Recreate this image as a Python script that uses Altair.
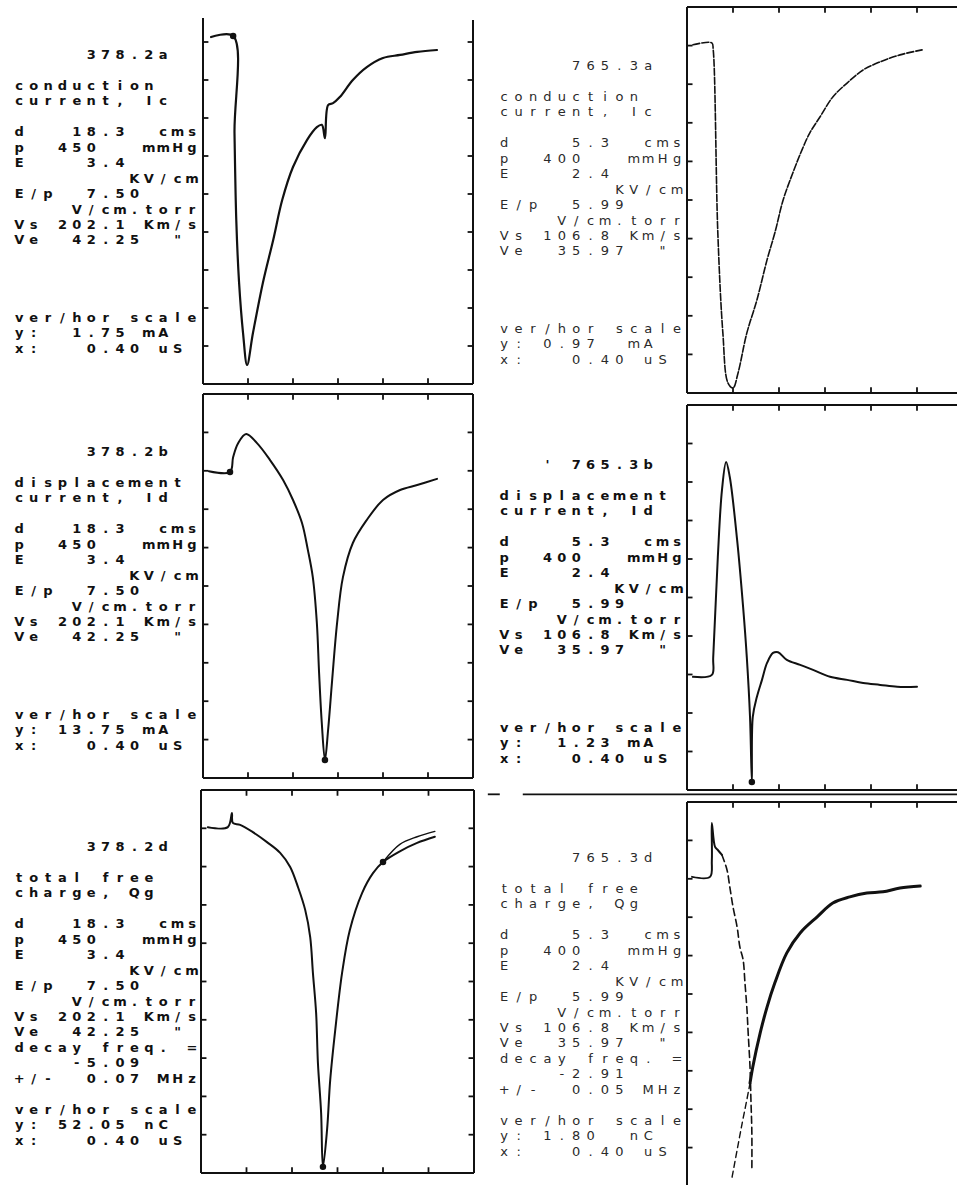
import altair as alt
import pandas as pd

# ---------------------------------------------------------------------------
# Text blocks printed to the left of every oscillogram (one entry per line)
# ---------------------------------------------------------------------------
TEXT_P1 = ["     378.2a", "", "conduction", "current, Ic", "",
           "d   18.3  cms", "p  450   mmHg", "E    3.4", "        KV/cm",
           "E/p  7.50", "    V/cm.torr", "Vs 202.1 Km/s", "Ve  42.25  \"",
           "", "", "", "", "ver/hor scale", "y:  1.75 mA", "x:   0.40 uS"]
TEXT_P2 = ["     765.3a", "", "conduction", "current, Ic", "",
           "d    5.3  cms", "p  400   mmHg", "E    2.4", "        KV/cm",
           "E/p  5.99", "    V/cm.torr", "Vs 106.8 Km/s", "Ve  35.97  \"",
           "", "", "", "", "ver/hor scale", "y: 0.97  mA", "x:   0.40 uS"]
TEXT_P3 = ["     378.2b", "", "displacement", "current, Id", "",
           "d   18.3  cms", "p  450   mmHg", "E    3.4", "        KV/cm",
           "E/p  7.50", "    V/cm.torr", "Vs 202.1 Km/s", "Ve  42.25  \"",
           "", "", "", "", "ver/hor scale", "y: 13.75 mA", "x:   0.40 uS"]
TEXT_P4 = ["   ' 765.3b", "", "displacement", "current, Id", "",
           "d    5.3  cms", "p  400   mmHg", "E    2.4", "        KV/cm",
           "E/p  5.99", "    V/cm.torr", "Vs 106.8 Km/s", "Ve  35.97  \"",
           "", "", "", "", "ver/hor scale", "y:  1.23 mA", "x:   0.40 uS"]
TEXT_P5 = ["     378.2d", "", "total free", "charge, Qg", "",
           "d   18.3  cms", "p  450   mmHg", "E    3.4", "        KV/cm",
           "E/p  7.50", "    V/cm.torr", "Vs 202.1 Km/s", "Ve  42.25  \"",
           "decay freq. =", "    -5.09", "+/-  0.07 MHz", "",
           "ver/hor scale", "y: 52.05 nC", "x:   0.40 uS"]
TEXT_P6 = ["     765.3d", "", "total free", "charge, Qg", "",
           "d    5.3  cms", "p  400   mmHg", "E    2.4", "        KV/cm",
           "E/p  5.99", "    V/cm.torr", "Vs 106.8 Km/s", "Ve  35.97  \"",
           "decay freq. =", "    -2.91", "+/-  0.05 MHz", "",
           "ver/hor scale", "y: 1.80  nC", "x:   0.40 uS"]

# ---------------------------------------------------------------------------
# Traces in screen divisions
# (x: 0..6 divisions of 0.40 us, y: 0..10 vertical divisions)
# ---------------------------------------------------------------------------
P1_X = [0.18, 0.67, 0.70, 0.74, 0.80, 0.89, 0.98, 1.11, 1.33, 1.56, 1.76, 2.0, 2.31,
        2.53, 2.64, 2.71, 2.78, 2.89, 3.04, 3.33, 3.64, 4.0, 4.38, 4.76, 5.2]
P1_Y = [9.13, 9.16, 6.60, 4.30, 2.70, 1.34, 0.50, 1.34, 2.66, 3.79, 4.84, 5.71, 6.42,
        6.76, 6.82, 6.47, 7.34, 7.39, 7.55, 8.0, 8.34, 8.58, 8.66, 8.74, 8.79]

P2_X = [0.13, 0.54, 0.57, 0.67, 0.78, 0.89, 1.0, 1.11, 1.30, 1.52, 1.74, 1.91,
        2.09, 2.30, 2.5, 2.67, 2.89, 3.17, 3.48, 3.83, 4.20, 4.63, 5.11]
P2_Y = [9.02, 9.07, 8.89, 4.15, 1.55, 0.26, 0.13, 0.52, 1.55, 2.41, 3.45, 4.15,
        5.0, 5.70, 6.30, 6.74, 7.15, 7.67, 8.03, 8.37, 8.58, 8.76, 8.89]

P3_X = [0.13, 0.60, 0.67, 0.78, 0.96, 1.2, 1.49, 1.78, 2.0, 2.2, 2.33, 2.44, 2.53,
        2.58, 2.64, 2.71, 2.78, 2.87, 2.98, 3.11, 3.33, 3.64, 4.0, 4.38, 4.76, 5.2]
P3_Y = [7.99, 7.97, 8.36, 8.72, 8.96, 8.72, 8.28, 7.76, 7.24, 6.64, 5.94, 5.23, 4.04,
        2.73, 1.43, 0.47, 1.25, 2.55, 4.04, 5.23, 6.12, 6.72, 7.24, 7.5, 7.63, 7.79]

P4_X = [0.13, 0.54, 0.57, 0.67, 0.76, 0.85, 0.93, 1.09, 1.22, 1.30, 1.37, 1.41, 1.43,
        1.52, 1.63, 1.74, 1.87, 1.98, 2.17, 2.46, 2.74, 3.11, 3.48, 3.83, 4.20, 4.57, 5.0]
P4_Y = [2.94, 2.99, 3.45, 6.05, 7.79, 8.52, 8.13, 6.49, 4.75, 3.45, 1.90, 0.21, 1.90,
        2.42, 2.86, 3.30, 3.56, 3.58, 3.38, 3.25, 3.12, 2.94, 2.86, 2.78, 2.73, 2.68, 2.68]

P5_X = [0.15, 0.59, 0.68, 0.70, 0.86, 1.14, 1.45, 1.74, 1.96, 2.13, 2.29, 2.40, 2.46, 2.53,
        2.57, 2.64, 2.68, 2.77, 2.84, 2.95, 3.10, 3.27, 3.54, 3.78, 4.0, 4.37, 4.75, 5.14]
P5_Y = [9.03, 9.03, 9.40, 9.14, 9.09, 8.90, 8.64, 8.36, 7.99, 7.47, 6.87, 6.16, 5.22, 4.18,
        2.87, 1.57, 0.16, 1.12, 2.43, 3.73, 5.22, 6.34, 7.31, 7.83, 8.12, 8.40, 8.62, 8.78]
P5_FIT_X = [4.0, 4.37, 4.75, 5.14]
P5_FIT_Y = [8.12, 8.58, 8.78, 8.92]

P6_DATA_X = [0.11, 0.50, 0.54, 0.54, 0.61, 0.67, 0.76, 0.87, 0.93, 1.0, 1.09, 1.15,
             1.22, 1.26, 1.30, 1.33, 1.37, 1.39, 1.41, 1.41]
P6_DATA_Y = [8.05, 8.05, 8.49, 9.45, 8.83, 8.75, 8.62, 8.23, 7.79, 7.27, 6.74, 6.22,
             5.89, 5.29, 4.66, 3.98, 3.10, 2.24, 1.38, 0.42]
P6_FIT_X = [0.98, 1.09, 1.20, 1.30, 1.37, 1.43, 1.59, 1.74, 1.91, 2.17, 2.46, 2.83,
            3.17, 3.54, 3.91, 4.26, 4.63, 5.07]
P6_FIT_Y = [0.23, 0.94, 1.64, 2.24, 2.68, 3.10, 3.98, 4.66, 5.29, 6.07, 6.59, 7.01,
            7.37, 7.53, 7.63, 7.66, 7.76, 7.81]

# plotter dots on the traces
DOTS = {
    "P1": ([0.67], [9.16]),
    "P3": ([0.60, 2.71], [7.97, 0.47]),
    "P4": ([1.41], [0.21]),
    "P5": ([2.68, 4.0], [0.16, 8.12]),
}

TICK_X = [1, 2, 3, 4, 5]
TICK_Y = [1, 2, 3, 4, 5, 6, 7, 8, 9]

# ---------------------------------------------------------------------------
# Layout (page pixels): plot box x-left, x-right, y-bottom, y-top
# ---------------------------------------------------------------------------
BOX = {
    "P1": (203, 473, 384, 4),
    "P2": (687, 963, 393, 7),
    "P3": (203, 473, 778, 394),
    "P4": (687, 963, 790, 405),
    "P5": (201, 474, 1173, 790),
    "P6": (687, 963, 1186, 802),
}
# text block: left x of column 0, y of line 0
TEXT_POS = {
    "P1": (12, 55), "P2": (497, 66), "P3": (12, 452),
    "P4": (497, 465), "P5": (12, 847), "P6": (497, 858),
}
TEXT_BOLD = {"P1": True, "P2": False, "P3": True, "P4": True, "P5": True, "P6": False}
COL_W = 14.4
ROW_H = 15.45
FONT_SIZE = 13

# visible frame sides: side -> (from, to) along the side, in divisions
FRAME = {
    "P1": {"left": (0, 9.63), "right": (0, 9.58), "bottom": (0, 6)},
    "P2": {"left": (0, 10), "top": (0, 6), "bottom": (0, 6)},
    "P3": {"left": (0, 10), "right": (0, 10), "top": (0, 6), "bottom": (0, 6)},
    "P4": {"left": (0, 10), "top": (0, 6), "bottom": (0, 6)},
    "P5": {"left": (0, 10), "right": (0, 10), "top": (0, 6), "bottom": (0, 6)},
    "P6": {"left": (0, 10), "top": (0, 6)},
}
TLX, TLY = 0.12, 0.15  # inward tick length in divisions

# stray scan lines between the lower right panels (in P6 divisions)
SCAN_LINES = [(-3.57, 10.2, 6.0, 10.2), (-4.33, 10.2, -4.07, 10.2)]

INK = "#111111"


def xs(p):
    b = BOX[p]
    return alt.Scale(domain=[0, 6], range=[b[0], b[1]], nice=False, zero=False)


def ys(p):
    b = BOX[p]
    return alt.Scale(domain=[0, 10], range=[b[2], b[3]], nice=False, zero=False)


def seg_layer(p, segs, width=2.0, color=INK):
    df = pd.DataFrame(segs, columns=["x", "y", "x2", "y2"])
    return alt.Chart(df).mark_rule(strokeWidth=width, color=color).encode(
        x=alt.X("x:Q", scale=xs(p), axis=None),
        y=alt.Y("y:Q", scale=ys(p), axis=None),
        x2="x2:Q", y2="y2:Q")


def frame_layers(p):
    segs, ticks = [], []
    for side, (a, b) in FRAME[p].items():
        if side == "left":
            segs.append((0, a, 0, b))
            ticks += [(0, k, TLX, k) for k in TICK_Y if a < k < b]
        elif side == "right":
            segs.append((6, a, 6, b))
            ticks += [(6, k, 6 - TLX, k) for k in TICK_Y if a < k < b]
        elif side == "bottom":
            segs.append((a, 0, b, 0))
            ticks += [(k, 0, k, TLY) for k in TICK_X]
        elif side == "top":
            segs.append((a, 10, b, 10))
            ticks += [(k, 10, k, 10 - TLY) for k in TICK_X]
    return [seg_layer(p, segs, 2.0), seg_layer(p, ticks, 1.8)]


def line_layer(p, xv, yv, width=2.0, dash=None):
    df = pd.DataFrame({"x": xv, "y": yv, "i": list(range(len(xv)))})
    kw = dict(strokeWidth=width, color=INK, strokeJoin="round", strokeCap="round",
              interpolate="catmull-rom")
    if dash:
        kw["strokeDash"] = dash
    return alt.Chart(df).mark_line(**kw).encode(
        x=alt.X("x:Q", scale=xs(p), axis=None),
        y=alt.Y("y:Q", scale=ys(p), axis=None),
        order="i:Q")


def dot_layer(p, xv, yv):
    df = pd.DataFrame({"x": xv, "y": yv})
    return alt.Chart(df).mark_circle(size=42, color=INK, opacity=1).encode(
        x=alt.X("x:Q", scale=xs(p), axis=None),
        y=alt.Y("y:Q", scale=ys(p), axis=None))


def text_layer(p, lines):
    rows = []
    for r, line in enumerate(lines):
        for c, ch in enumerate(line):
            if ch != " ":
                rows.append({"row": r, "col": c, "ch": ch})
    df = pd.DataFrame(rows)
    x0, y0 = TEXT_POS[p]
    bold = TEXT_BOLD[p]
    return alt.Chart(df).mark_text(
        font="DejaVu Sans", fontSize=FONT_SIZE,
        fontWeight="bold" if bold else "normal",
        color=INK if bold else "#2a2a2a",
        align="center", baseline="middle").encode(
        x=alt.X("col:Q", axis=None, scale=alt.Scale(
            domain=[0, 12], range=[x0 + COL_W / 2, x0 + COL_W / 2 + 12 * COL_W],
            nice=False, zero=False)),
        y=alt.Y("row:Q", axis=None, scale=alt.Scale(
            domain=[0, 19], range=[y0, y0 + 19 * ROW_H], nice=False, zero=False)),
        text="ch:N")


layers = []
texts = {"P1": TEXT_P1, "P2": TEXT_P2, "P3": TEXT_P3,
         "P4": TEXT_P4, "P5": TEXT_P5, "P6": TEXT_P6}
for p in ["P1", "P2", "P3", "P4", "P5", "P6"]:
    layers += frame_layers(p)
    layers.append(text_layer(p, texts[p]))

layers.append(line_layer("P1", P1_X, P1_Y, 2.2))
layers.append(line_layer("P2", P2_X, P2_Y, 1.6, [7, 2]))
layers.append(line_layer("P3", P3_X, P3_Y, 2.0))
layers.append(line_layer("P4", P4_X, P4_Y, 2.0))
layers.append(line_layer("P5", P5_X, P5_Y, 2.0))
layers.append(line_layer("P5", P5_FIT_X, P5_FIT_Y, 1.4))
layers.append(line_layer("P6", P6_DATA_X[:7], P6_DATA_Y[:7], 2.0))
layers.append(line_layer("P6", P6_DATA_X[6:], P6_DATA_Y[6:], 1.6, [7, 4]))
layers.append(line_layer("P6", P6_FIT_X[:6], P6_FIT_Y[:6], 1.4, [6, 4]))
layers.append(line_layer("P6", P6_FIT_X[4:], P6_FIT_Y[4:], 3.0))
layers.append(seg_layer("P6", SCAN_LINES, 1.8))
for p, (dx, dy) in DOTS.items():
    layers.append(dot_layer(p, dx, dy))

chart = alt.layer(*layers).resolve_scale(
    x="independent", y="independent"
).properties(
    width=957, height=1185,
    autosize=alt.AutoSizeParams(type="none"),
    padding=0,
    background="white",
).configure_view(stroke=None)

chart.save("out.html", embed_options={"renderer": "svg", "actions": False})
